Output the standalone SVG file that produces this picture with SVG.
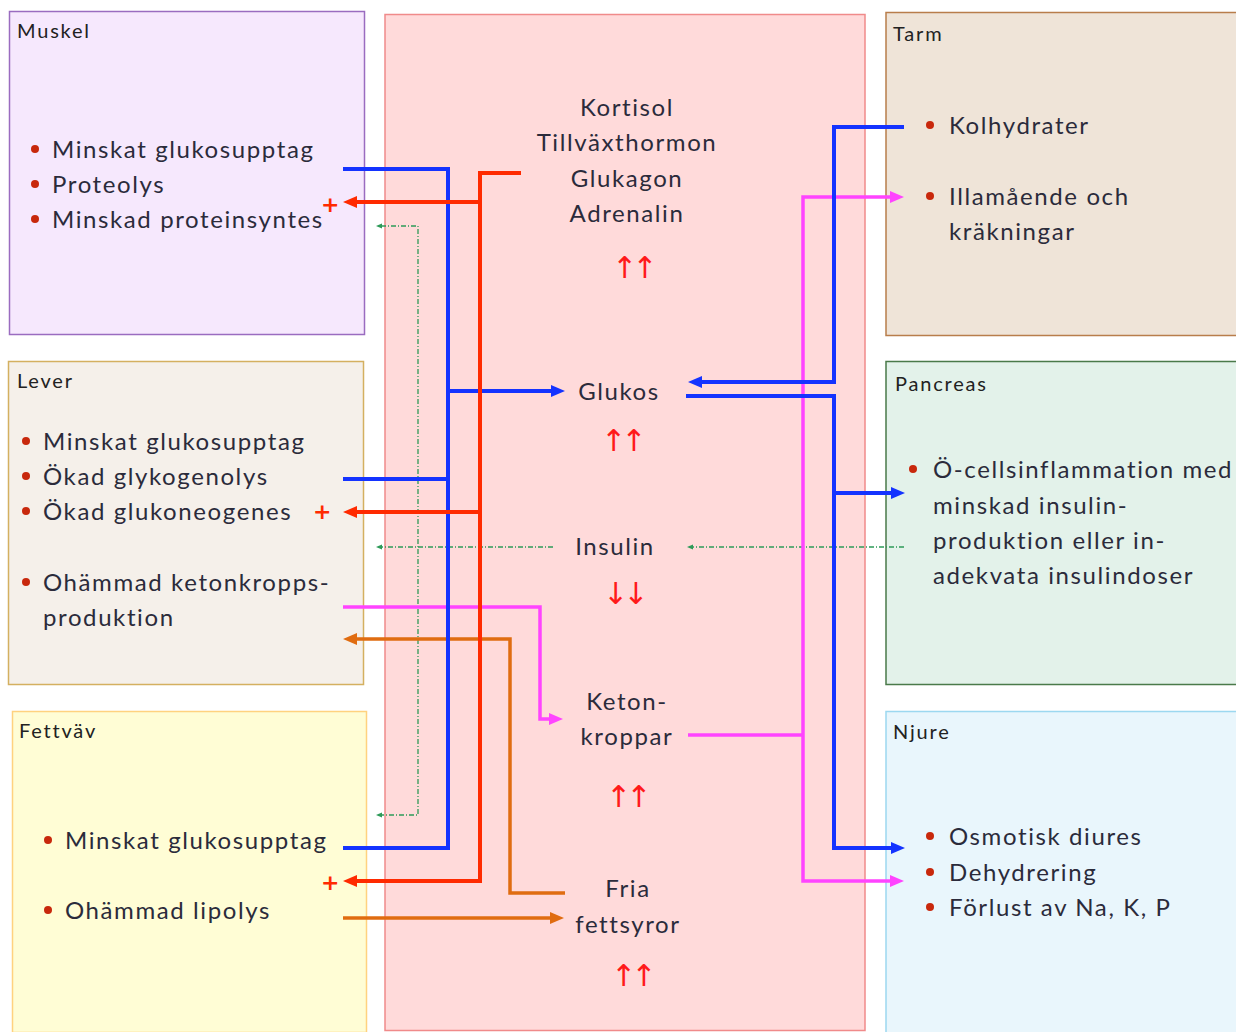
<svg xmlns="http://www.w3.org/2000/svg" width="1236" height="1032" viewBox="0 0 1236 1032">
<style>
.box{stroke-width:1.5}
.ttl{font-family:Lato,"Noto Sans",sans-serif;font-size:20px;fill:#222;letter-spacing:1.8px}
.txt{font-family:Lato,"Noto Sans",sans-serif;font-size:24px;fill:#2b2b3b;letter-spacing:1.6px}
.ctr{font-family:Lato,"Noto Sans",sans-serif;font-size:24px;fill:#2b2b3b;text-anchor:middle;letter-spacing:1.6px}
.bul{fill:#c8280c}
.plus{font-family:"DejaVu Sans",sans-serif;font-size:22px;font-weight:bold;fill:#ff2a00}
.arr{font-family:"DejaVu Sans",sans-serif;font-size:30px;fill:#ff1a1a;letter-spacing:-5px}
.c{fill:none;stroke-linejoin:miter}
.b{stroke:#1433ff;stroke-width:4}
.r{stroke:#ff2a00;stroke-width:4}
.m{stroke:#ff44ff;stroke-width:3.5}
.o{stroke:#e06c10;stroke-width:3.5}
.g{stroke:#2e9a58;stroke-width:1.3;stroke-dasharray:5 2 1 2}
</style>
<defs>
<marker id="mb" markerUnits="userSpaceOnUse" markerWidth="14" markerHeight="14" viewBox="0 0 14 14" refX="2" refY="7" orient="auto-start-reverse"><path d="M0,1 L14,7 L0,13 z" fill="#1433ff"/></marker>
<marker id="mr" markerUnits="userSpaceOnUse" markerWidth="14" markerHeight="14" viewBox="0 0 14 14" refX="2" refY="7" orient="auto-start-reverse"><path d="M0,1 L14,7 L0,13 z" fill="#ff2a00"/></marker>
<marker id="mm" markerUnits="userSpaceOnUse" markerWidth="14" markerHeight="14" viewBox="0 0 14 14" refX="2" refY="7" orient="auto-start-reverse"><path d="M0,1 L14,7 L0,13 z" fill="#ff44ff"/></marker>
<marker id="mo" markerUnits="userSpaceOnUse" markerWidth="14" markerHeight="14" viewBox="0 0 14 14" refX="2" refY="7" orient="auto-start-reverse"><path d="M0,1 L14,7 L0,13 z" fill="#e06c10"/></marker>
<marker id="mg" markerUnits="userSpaceOnUse" markerWidth="6" markerHeight="6" viewBox="0 0 6 6" refX="1" refY="3" orient="auto-start-reverse"><path d="M0,0.5 L6,3 L0,5.5 z" fill="#2e9a58"/></marker>
</defs>

<g id="center">
<rect class="box" x="385" y="14.5" width="480" height="1016" fill="#ffdada" stroke="#f08a8a"/>
<text class="ctr" x="627" y="116">Kortisol</text>
<text class="ctr" x="627" y="151">Tillväxthormon</text>
<text class="ctr" x="627" y="187">Glukagon</text>
<text class="ctr" x="627" y="222">Adrenalin</text>
<text class="arr" x="612" y="278">↑↑</text>
<text class="ctr" x="619" y="400">Glukos</text>
<text class="arr" x="601" y="451">↑↑</text>
<text class="ctr" x="615" y="555">Insulin</text>
<text class="arr" x="603" y="604">↓↓</text>
<text class="ctr" x="627" y="710">Keton-</text>
<text class="ctr" x="627" y="745">kroppar</text>
<text class="arr" x="606" y="807">↑↑</text>
<text class="ctr" x="628" y="897">Fria</text>
<text class="ctr" x="628" y="933">fettsyror</text>
<text class="arr" x="611" y="986">↑↑</text>
</g>

<g id="muskel">
<rect class="box" x="9.5" y="11.5" width="355" height="323" fill="#f6e8fd" stroke="#9a6cc0"/>
<text class="ttl" x="17" y="38">Muskel</text>
<circle class="bul" cx="35" cy="149" r="4"/><text class="txt" x="52" y="158">Minskat glukosupptag</text>
<circle class="bul" cx="35" cy="184" r="4"/><text class="txt" x="52" y="193">Proteolys</text>
<circle class="bul" cx="35" cy="219" r="4"/><text class="txt" x="52" y="228">Minskad proteinsyntes</text>
<text class="plus" x="321" y="212">+</text>
</g>

<g id="lever">
<rect class="box" x="8.5" y="361.5" width="355" height="323" fill="#f5f0ea" stroke="#d4b060"/>
<text class="ttl" x="17" y="388">Lever</text>
<circle class="bul" cx="26" cy="441" r="4"/><text class="txt" x="43" y="450">Minskat glukosupptag</text>
<circle class="bul" cx="26" cy="476" r="4"/><text class="txt" x="43" y="485">Ökad glykogenolys</text>
<circle class="bul" cx="26" cy="511" r="4"/><text class="txt" x="43" y="520">Ökad glukoneogenes</text>
<text class="plus" x="313" y="519">+</text>
<circle class="bul" cx="26" cy="582" r="4"/><text class="txt" x="43" y="591">Ohämmad ketonkropps-</text>
<text class="txt" x="43" y="626">produktion</text>
</g>

<g id="fettvav">
<rect class="box" x="12.5" y="711.5" width="354" height="321" fill="#fffdd5" stroke="#ffd27f"/>
<text class="ttl" x="19" y="738">Fettväv</text>
<circle class="bul" cx="48" cy="840" r="4"/><text class="txt" x="65" y="849">Minskat glukosupptag</text>
<text class="plus" x="321" y="890">+</text>
<circle class="bul" cx="48" cy="910" r="4"/><text class="txt" x="65" y="919">Ohämmad lipolys</text>
</g>

<g id="tarm">
<rect class="box" x="886" y="12.5" width="352" height="323" fill="#efe4d8" stroke="#b87d4b"/>
<text class="ttl" x="893" y="41">Tarm</text>
<circle class="bul" cx="930" cy="125" r="4"/><text class="txt" x="949" y="134">Kolhydrater</text>
<circle class="bul" cx="930" cy="196" r="4"/><text class="txt" x="949" y="205">Illamående och</text>
<text class="txt" x="949" y="240">kräkningar</text>
</g>

<g id="pancreas">
<rect class="box" x="886" y="361.5" width="352" height="323" fill="#e3f2ea" stroke="#4a7a4a"/>
<text class="ttl" x="895" y="391">Pancreas</text>
<circle class="bul" cx="913" cy="469" r="4"/><text class="txt" x="933" y="478">Ö-cellsinflammation med</text>
<text class="txt" x="933" y="514">minskad insulin-</text>
<text class="txt" x="933" y="549">produktion eller in-</text>
<text class="txt" x="933" y="584">adekvata insulindoser</text>
</g>

<g id="njure">
<rect class="box" x="886" y="711.5" width="352" height="322" fill="#e9f6fc" stroke="#9cd8f0"/>
<text class="ttl" x="893" y="739">Njure</text>
<circle class="bul" cx="930" cy="836" r="4"/><text class="txt" x="949" y="845">Osmotisk diures</text>
<circle class="bul" cx="930" cy="872" r="4"/><text class="txt" x="949" y="881">Dehydrering</text>
<circle class="bul" cx="930" cy="907" r="4"/><text class="txt" x="949" y="916">Förlust av Na, K, P</text>
</g>

<g id="connectors">
<path class="c g" d="M553,547 H381" marker-end="url(#mg)"/>
<path class="c g" d="M381,226 H418 V815 H381" marker-start="url(#mg)" marker-end="url(#mg)"/>
<path class="c g" d="M904,547 H692" marker-end="url(#mg)"/>
<path class="c m" d="M343,607 H540 V719 H551" marker-end="url(#mm)"/>
<path class="c o" d="M565,893 H510 V639 H355" marker-end="url(#mo)"/>
<path class="c o" d="M343,918 H552" marker-end="url(#mo)"/>
<path class="c b" d="M343,169 H448 V848 H343"/>
<path class="c b" d="M343,479 H448"/>
<path class="c b" d="M448,391 H553" marker-end="url(#mb)"/>
<path class="c r" d="M521,173 H480 V881 H355" marker-end="url(#mr)"/>
<path class="c r" d="M480,202 H355" marker-end="url(#mr)"/>
<path class="c r" d="M480,512 H355" marker-end="url(#mr)"/>
<path class="c m" d="M688,735 H803"/>
<path class="c m" d="M803,735 V197 H892" marker-end="url(#mm)"/>
<path class="c m" d="M803,735 V881 H892" marker-end="url(#mm)"/>
<path class="c b" d="M904,127 H834 V382 H700" marker-end="url(#mb)"/>
<path class="c b" d="M686,396 H834 V848 H893" marker-end="url(#mb)"/>
<path class="c b" d="M834,493 H893" marker-end="url(#mb)"/>
</g>
</svg>
